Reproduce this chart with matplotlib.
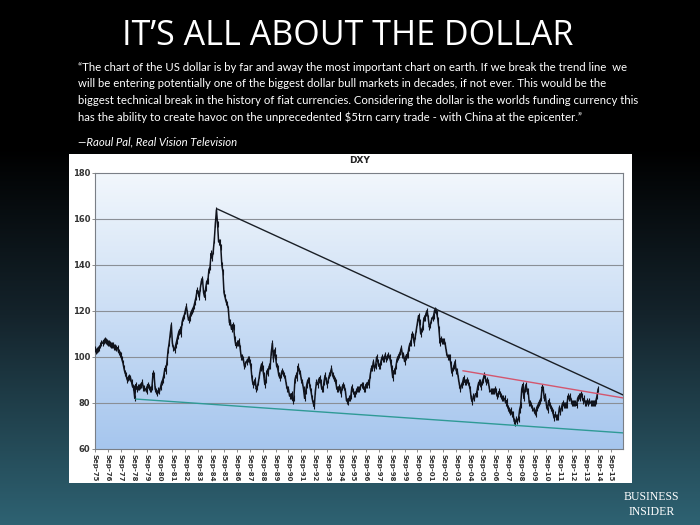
import numpy as np
import matplotlib
matplotlib.use("Agg")
import matplotlib.pyplot as plt
from matplotlib.colors import LinearSegmentedColormap

# DXY monthly closes, starting Sep-1975
dxy = [
    103.5, 102.5, 103.0, 103.5,                                          # 1975 Sep-Dec
    104, 105, 106, 106, 107, 107.5, 107, 106.5, 106, 106, 105.5, 105,    # 1976
    105, 105, 104.5, 104.5, 104, 104, 102, 101.5, 101, 99, 97.5, 95,     # 1977
    93, 92, 90, 91, 91.5, 91, 89, 87, 86.5, 82, 88, 86,                  # 1978
    87, 87, 87.5, 88, 89, 86.5, 86.5, 86, 85, 88, 87, 86,                # 1979
    86, 87, 93, 92, 86, 85, 84.5, 85.5, 85, 87, 89, 90,                  # 1980
    92, 95, 94, 98, 103, 106, 110, 114, 106, 104, 103, 105,              # 1981
    107, 109, 111, 112, 110, 115, 117, 118, 120, 122, 119, 116,          # 1982
    117, 119, 120, 121, 122, 124, 126, 129, 128, 126, 130, 133,          # 1983
    134, 128, 126, 130, 133, 133, 138, 139, 145, 143, 146, 151,          # 1984
    158, 164, 158, 150, 150, 148, 140, 137, 128, 126, 124, 123,          # 1985
    121, 115, 115, 112, 114, 113, 108, 105, 106, 106, 107, 104,          # 1986
    100, 100, 99, 96, 97, 98, 99, 99, 98, 96, 91, 88,                    # 1987
    89, 90, 86, 87, 89, 92, 95, 97, 95, 92, 88, 90,                      # 1988
    94, 93, 96, 96, 102, 106, 99, 103, 100, 96, 95, 92,                  # 1989
    91, 92, 94, 93, 92, 91, 88, 86, 86, 83, 83, 84,                      # 1990
    81, 82, 90, 92, 91, 96, 94, 93, 90, 89, 86, 82,                      # 1991
    85, 88, 90, 90, 87, 85, 82, 80, 78.5, 85, 89, 88,                    # 1992
    90, 91, 89, 86, 86, 89, 92, 90, 88, 90, 92, 93,                      # 1993
    95, 92, 91, 90, 89, 86, 86, 87, 86, 84, 87, 88,                      # 1994
    87, 85, 81, 80.5, 82, 82, 83, 87, 85, 84, 84, 85,                    # 1995
    86, 86, 86, 87, 88, 88, 86, 86, 88, 88, 89, 88,                      # 1996
    92, 95, 95, 98, 95, 96, 100, 98, 96, 96, 98, 100,                    # 1997
    99, 99, 101, 99, 100, 101, 100, 98, 95, 91, 94, 94,                  # 1998
    96, 99, 100, 101, 102, 104, 101, 101, 98, 100, 101, 101,             # 1999
    104, 106, 106, 110, 109, 106, 109, 112, 115, 118, 115, 110,          # 2000
    112, 113, 117, 117, 119, 120, 117, 113, 114, 116, 117, 118,          # 2001
    120.5, 120, 119, 116, 112, 106, 108, 107, 107, 107, 105, 102,        # 2002
    100, 100, 100, 97, 93, 95, 96, 98, 94, 94, 91, 88,                   # 2003
    86, 88, 89, 91, 89, 89, 90, 89, 88, 86, 82, 80.5,                    # 2004
    83, 82, 84, 84, 87, 89, 89, 87, 89, 90, 92, 91,                      # 2005
    89, 90, 89, 86, 85, 85, 85, 85, 86, 85, 83, 84,                      # 2006
    85, 84, 83, 82, 82, 82, 80, 81, 78, 77, 76, 77,                      # 2007
    75, 75, 72, 71.5, 73, 72, 73, 77, 79, 86, 88, 82,                    # 2008
    86, 88, 85, 85, 80, 80, 79, 78, 77, 76, 75, 78,                      # 2009
    79, 80, 81, 82, 87, 86, 82, 83, 79, 77, 81, 79,                      # 2010
    78, 77, 76, 73.5, 75, 74, 74, 74, 78, 76, 78, 80,                    # 2011
    79, 79, 79, 79, 83, 82, 83, 81, 80, 80, 80, 80,                      # 2012
    79, 82, 83, 82, 84, 83, 81, 82, 80, 80, 81, 80,                      # 2013
    81, 80, 80, 80, 80, 80, 81, 83, 86,                                  # 2014 Jan-Sep
]

tick_years = list(range(1975, 2016))
tick_labels = ["Sep-%02d" % (y % 100) for y in tick_years]
yticks = [60, 80, 100, 120, 140, 160, 180]

# trend lines (x in decimal years, y in index points)
black_x = [1985.17, 2016.6]
black_y = [164.3, 83.5]
green_x = [1978.85, 2016.6]
green_y = [81.7, 67.0]
red_x = [2004.2, 2016.6]
red_y = [94.0, 82.2]

quote = ("\u201cThe chart of the US dollar is by far and away the most important chart on earth. If we break the trend line  we\n"
         "will be entering potentially one of the biggest dollar bull markets in decades, if not ever. This would be the\n"
         "biggest technical break in the history of fiat currencies. Considering the dollar is the worlds funding currency this\n"
         "has the ability to create havoc on the unprecedented $5trn carry trade - with China at the epicenter.\u201d")

fig = plt.figure(figsize=(7, 5.25), dpi=100)

# slide background
bg = fig.add_axes([0, 0, 1, 1])
slide_cmap = LinearSegmentedColormap.from_list(
    "slide", [(0, "#000000"), (0.28, "#000000"), (0.6, "#14232b"), (1, "#2e6272")])
bg.imshow(np.linspace(0, 1, 256).reshape(-1, 1), aspect="auto", cmap=slide_cmap,
          extent=[0, 1, 0, 1], origin="upper")
bg.axis("off")

fig.text(0.497, 0.932, "IT\u2019S ALL ABOUT THE DOLLAR", color="white", fontsize=24.5,
         family="Open Sans", ha="center", va="center")
fig.text(0.111, 0.882, quote, color="white", fontsize=8.2, family="Lato",
         ha="left", va="top", linespacing=1.6)
fig.text(0.111, 0.729, "\u2014Raoul Pal, Real Vision Television", color="white", fontsize=8.2,
         family="Lato", style="italic", ha="left", va="center")

# white chart panel
panel = fig.add_axes([0.0986, 0.08, 0.8044, 0.6267])
panel.set_facecolor("white")
panel.set_xticks([])
panel.set_yticks([])
for s in panel.spines.values():
    s.set_visible(False)
fig.text(0.514, 0.695, "DXY", fontsize=6.5, fontweight="bold", color="#222222",
         ha="center", va="center")

ax = fig.add_axes([0.1357, 0.1448, 0.7543, 0.5257])
x = 1975 + 8 / 12 + np.arange(len(dxy)) / 12
xmin, xmax = 1975 + 8 / 12, 2016.6

plot_cmap = LinearSegmentedColormap.from_list("plot", ["#f2f7fc", "#a6c6ee"])
ax.imshow(np.linspace(0, 1, 256).reshape(-1, 1), aspect="auto", cmap=plot_cmap,
          extent=[xmin, xmax, 60, 180], origin="upper", zorder=0)

for v in yticks[1:-1]:
    ax.axhline(v, color="#8a8f96", lw=0.8, zorder=1)

ax.plot(x, dxy, color="#10131c", lw=1.1, zorder=3)
ax.plot(x, dxy, ls="none", marker="|", ms=4, mew=0.8, color="#10131c", zorder=3)

ax.plot(black_x, black_y, color="#1a1f26", lw=1.0, zorder=4)
ax.plot(green_x, green_y, color="#2f9a96", lw=1.0, zorder=4)
ax.plot(red_x, red_y, color="#d4566e", lw=1.0, zorder=4)

ax.set_xlim(xmin, xmax)
ax.set_ylim(60, 180)
ax.set_yticks(yticks)
ax.set_yticklabels([str(v) for v in yticks], fontsize=6, fontweight="bold", color="#333333")
ax.set_xticks([y + 8 / 12 for y in tick_years])
ax.set_xticklabels(tick_labels, rotation=-90, fontsize=5, fontweight="bold", color="#333333")
ax.tick_params(axis="both", length=2, width=0.6, color="#777777", pad=1.5)
for s in ax.spines.values():
    s.set_color("#7a7f86")
    s.set_linewidth(0.8)

fig.text(0.931, 0.053, "BUSINESS", color="white", fontsize=8.5, family="Liberation Serif",
         ha="center", va="center")
fig.text(0.931, 0.024, "INSIDER", color="white", fontsize=8.5, family="Liberation Serif",
         ha="center", va="center")

fig.savefig("out.png", dpi=100)
